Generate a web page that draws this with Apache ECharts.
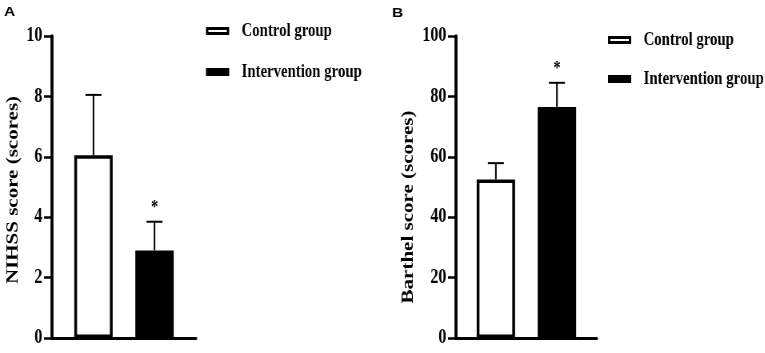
<!DOCTYPE html>
<html>
<head>
<meta charset="utf-8">
<script src="https://cdn.jsdelivr.net/npm/echarts@6/dist/echarts.min.js"></script>
<style>
  html, body { margin: 0; padding: 0; background: #fff; overflow: hidden; }
  /* the figure is squeezed horizontally, so draw wide and compress */
  #chart { width: 956px; height: 353px; transform: scaleX(0.8); transform-origin: 0 0; }
</style>
</head>
<body>
<div id="chart"></div>
<script>
// data
const groups = ['Control group', 'Intervention group'];
const nihssCategory = ['NIHSS'];
const nihssMean = [6.05, 2.9];
const nihssSD = [2.0, 0.95];
const barthelCategory = ['Barthel'];
const barthelMean = [52.5, 76.5];
const barthelSD = [5.4, 8.0];
const significant = [false, true];
const nihssAxis = { min: 0, max: 10, step: 2 };
const barthelAxis = { min: 0, max: 100, step: 20 };

const serif = '"Liberation Serif", "Times New Roman", serif';
const barWidth = 48;
const barGap = 0.59;
const barOffset = (barWidth * (1 + barGap)) / 2;

let chart = echarts.init(document.getElementById('chart'));

function yAxis(ax, grid) {
  return {
    type: 'value', gridIndex: grid,
    min: ax.min, max: ax.max, interval: ax.step,
    splitLine: { show: false },
    axisLine: { show: true, lineStyle: { color: '#000', width: 3.75 } },
    axisTick: { show: true, length: 10, lineStyle: { color: '#000', width: 2.5 } },
    axisLabel: { margin: 12, color: '#000', fontFamily: serif, fontWeight: 'bold', fontSize: 20 }
  };
}

function xAxis(cats, grid) {
  return {
    type: 'category', gridIndex: grid, data: cats,
    axisLine: { lineStyle: { color: '#000', width: 3 } },
    axisTick: { show: false },
    axisLabel: { show: false }
  };
}

function bars(means, panel) {
  return means.map((v, i) => ({
    name: groups[i],
    type: 'bar',
    xAxisIndex: panel, yAxisIndex: panel,
    barWidth: barWidth,
    barGap: barGap * 100 + '%',
    data: [v],
    itemStyle: { color: i === 0 ? '#fff' : '#000', borderColor: '#000', borderWidth: 3.5 }
  }));
}

function errorBars(means, sds, panel) {
  return {
    type: 'custom',
    coordinateSystem: 'cartesian2d',
    xAxisIndex: panel, yAxisIndex: panel,
    z: 5,
    silent: true,
    data: means.map((m, i) => [0, m, m + sds[i], i]),
    encode: { x: 0, y: [1, 2] },
    renderItem: (params, api) => {
      const g = api.value(3);
      const base = api.coord([api.value(0), api.value(1)]);
      const top = api.coord([api.value(0), api.value(2)]);
      const x = base[0] + (g === 0 ? -barOffset : barOffset);
      const style = { stroke: '#000', lineWidth: 2 };
      const children = [
        { type: 'line', shape: { x1: x, y1: base[1], x2: x, y2: top[1] }, style: style },
        { type: 'line', shape: { x1: x - 10, y1: top[1], x2: x + 10, y2: top[1] }, style: style }
      ];
      if (significant[g]) {
        children.push({
          type: 'text', x: x, y: top[1] - 13,
          style: { text: '*', fill: '#000', font: 'bold 18px ' + serif, textAlign: 'center', textVerticalAlign: 'middle' }
        });
      }
      return { type: 'group', children: children };
    }
  };
}

function legend(left, top, gap) {
  return {
    data: groups,
    orient: 'vertical',
    left: left, top: top,
    padding: 0,
    itemGap: gap,
    itemWidth: 26, itemHeight: 5,
    icon: 'rect',
    selectedMode: false,
    itemStyle: { borderColor: '#000', borderWidth: 3 },
    textStyle: { color: '#000', fontFamily: serif, fontWeight: 'bold', fontSize: 18.5, lineHeight: 22, padding: [0, 0, 0, 12] }
  };
}

function label(text, x, y) {
  return {
    type: 'text', x: x, y: y, scaleX: 1.5,
    style: { text: text, fill: '#000', font: 'bold 13px "Liberation Sans", Arial, sans-serif', textAlign: 'left', textVerticalAlign: 'top' }
  };
}

function axisTitle(text, x, y) {
  return {
    type: 'text', x: x, y: y, rotation: Math.PI / 2,
    style: { text: text, fill: '#000', font: 'bold 21px ' + serif, textAlign: 'center', textVerticalAlign: 'middle' }
  };
}

let option = {
  animation: false,
  grid: [
    { left: 65, right: 711, top: 36, bottom: 15 },
    { left: 570, right: 210, top: 36, bottom: 15 }
  ],
  xAxis: [xAxis(nihssCategory, 0), xAxis(barthelCategory, 1)],
  yAxis: [yAxis(nihssAxis, 0), yAxis(barthelAxis, 1)],
  legend: [legend(257.5, 20, 19), legend(760, 29, 17)],
  graphic: [
    label('A', 5, 6),
    label('B', 490, 7),
    axisTitle('NIHSS score (scores)', 17, 190),
    axisTitle('Barthel score (scores)', 511, 207)
  ],
  series: [
    ...bars(nihssMean, 0),
    ...bars(barthelMean, 1),
    errorBars(nihssMean, nihssSD, 0),
    errorBars(barthelMean, barthelSD, 1)
  ]
};
chart.setOption(option);
</script>
</body>
</html>
